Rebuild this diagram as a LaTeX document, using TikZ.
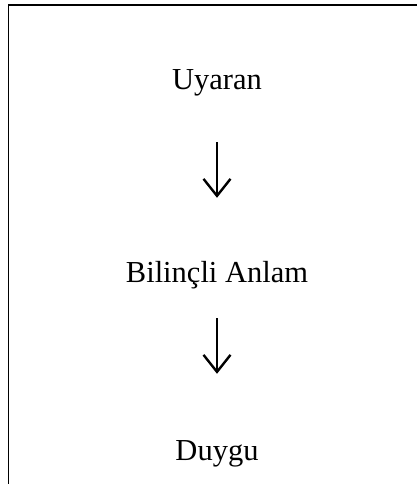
\documentclass[tikz,border=0pt]{standalone}
\usepackage{fontspec}
\setmainfont{Liberation Serif}
\usetikzlibrary{arrows.meta}
\begin{document}
\begin{tikzpicture}[x=1pt,y=1pt,
  lbl/.style={inner sep=0pt, anchor=base, text height=22pt, text depth=7pt,
    font=\fontsize{30.5}{36}\selectfont},
  flow/.style={line width=2.4pt, -{Straight Barb[length=17pt,width=27pt,line width=2.4pt]}}]
\useasboundingbox (0,0) rectangle (417,-484);
\draw[line width=1.8pt] (8.5,-484) -- (8.5,-5) -- (417,-5);
\node[lbl] (u) at (217,-90) {Uyaran};
\node[lbl] (b) at (217,-282) {Bilinçli Anlam};
\node[lbl] (d) at (217,-460) {Duygu};
\draw[flow, shorten <=45pt, shorten >=62pt] (u.south) -- (b.north);
\draw[flow, shorten <=29pt, shorten >=64pt] (b.south) -- (d.north);
\end{tikzpicture}
\end{document}
